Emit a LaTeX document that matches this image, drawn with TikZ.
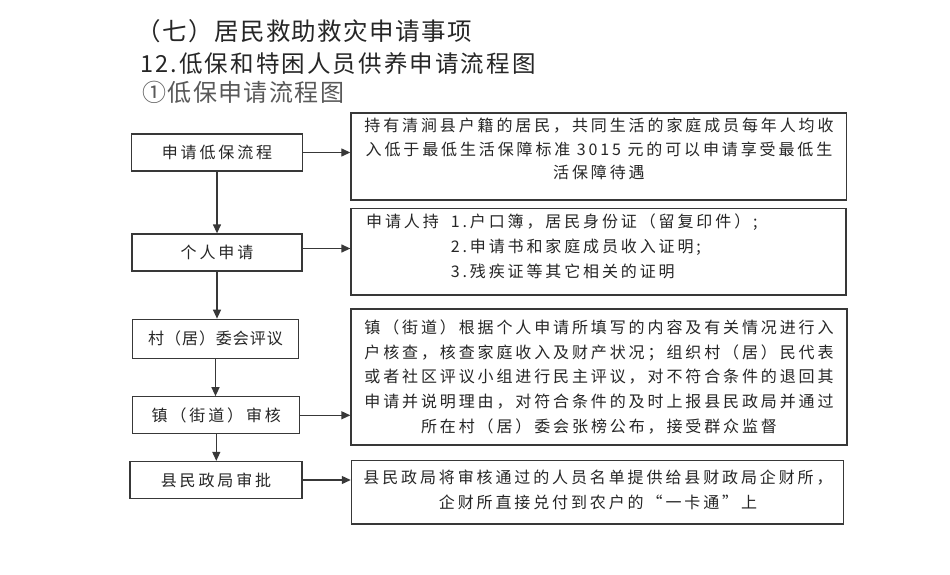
\documentclass[tikz,border=0pt]{standalone}
\usepackage{fontspec}
\usetikzlibrary{arrows.meta,calc}
\newfontfamily\cjk{Noto Sans CJK SC}[LetterSpace=18]
\newfontfamily\cjkn{Noto Sans CJK SC}[LetterSpace=6]
\newfontfamily\cjkh{Noto Sans CJK SC}[LetterSpace=6]
\newfontfamily\cjkhb{Noto Sans CJK SC}[LetterSpace=9]
\definecolor{txtc}{gray}{0.15}
\definecolor{linec}{gray}{0.22}
\definecolor{subc}{gray}{0.35}
\begin{document}
\begin{tikzpicture}[x=1pt,y=-1pt,
  box/.style={draw=linec, line width=1.3pt, inner sep=0pt, rectangle},
  lbl/.style={font=\cjk\fontsize{16}{16}\selectfont, text=txtc},
  rtext/.style={font=\cjk\fontsize{16}{23.3}\selectfont, text=txtc, inner sep=0pt},
  arr/.style={draw=linec, line width=1.3pt, -{Triangle[length=9pt,width=8pt]}},
  head/.style={anchor=west, inner sep=0pt, text=txtc}]
\fill[white] (0,0) rectangle (950,575);
\useasboundingbox (0,0) rectangle (950,575);

% titles
\node[head, font=\cjkh\fontsize{24.5}{24.5}\selectfont] (h1) at (136,31) {（七）居民救助救灾申请事项};
\node[head, font=\cjkhb\fontsize{23.5}{23.5}\selectfont] (h2) at (140,64) {12.低保和特困人员供养申请流程图};
\node[head, font=\cjkh\fontsize{24}{24}\selectfont, text=subc] (h3) at (142,92.5) {①低保申请流程图};

% left boxes
\node[box, lbl, minimum width=171pt, minimum height=37pt] (b1) at (217,152.5) {申请低保流程};
\node[box, lbl, minimum width=170pt, minimum height=37pt] (b2) at (217,252.5) {个人申请};
\node[box, lbl, font=\cjkn\fontsize{16}{16}\selectfont, minimum width=166pt, minimum height=39pt] (b3) at (215.5,338.8) {村（居）委会评议};
\node[box, lbl, minimum width=167pt, minimum height=37pt] (b4) at (216.3,415.3) {镇（街道）审核};
\node[box, lbl, minimum width=172pt, minimum height=37pt] (b5) at (216,480) {县民政局审批};

% right boxes
\node[box, minimum width=495.7pt, minimum height=87pt] (r1) at (598.8,156.5) {};
\node[box, minimum width=495pt, minimum height=86.7pt] (r2) at (598.5,251.6) {};
\node[box, minimum width=496pt, minimum height=136pt] (r3) at (599,377) {};
\node[box, minimum width=492pt, minimum height=63.3pt] (r4) at (597.4,492.3) {};

% right texts
\node[rtext, align=center] (t1) at (599,149) {持有清涧县户籍的居民，共同生活的家庭成员每年人均收\\入低于最低生活保障标准 3015 元的可以申请享受最低生\\活保障待遇};
\node[rtext, anchor=west, font=\cjk\fontsize{16}{25}\selectfont] (t2) at (366,247.5) {\begin{tabular}{@{}l@{\hspace{12pt}}l@{}}申请人持 & 1.户口簿，居民身份证（留复印件）;\\ & 2.申请书和家庭成员收入证明;\\ & 3.残疾证等其它相关的证明\end{tabular}};
\node[rtext, align=center, font=\cjk\fontsize{16}{24.7}\selectfont] (t3) at (599,377) {镇（街道）根据个人申请所填写的内容及有关情况进行入\\户核查，核查家庭收入及财产状况；组织村（居）民代表\\或者社区评议小组进行民主评议，对不符合条件的退回其\\申请并说明理由，对符合条件的及时上报县民政局并通过\\所在村（居）委会张榜公布，接受群众监督};
\node[rtext, align=center, font=\cjk\fontsize{16}{24.7}\selectfont] (t4) at (598,490) {县民政局将审核通过的人员名单提供给县财政局企财所，\\企财所直接兑付到农户的“一卡通”上};

% connectors
\draw[arr] (b1.south) -- (b1.south |- b2.north);
\draw[arr] (b2.south) -- (b2.south |- b3.north);
\draw[arr] (b3.south) -- (b3.south |- b4.north);
\draw[arr] (b4.south) -- (b4.south |- b5.north);
\draw[arr] (b1.east) -- (b1.east -| r1.west);
\draw[arr] ($(b2.east)+(0,-4)$) -- ($(b2.east -| r2.west)+(0,-4)$);
\draw[arr] (b4.east) -- (b4.east -| r3.west);
\draw[arr] (b5.east) -- (b5.east -| r4.west);
\end{tikzpicture}
\end{document}
